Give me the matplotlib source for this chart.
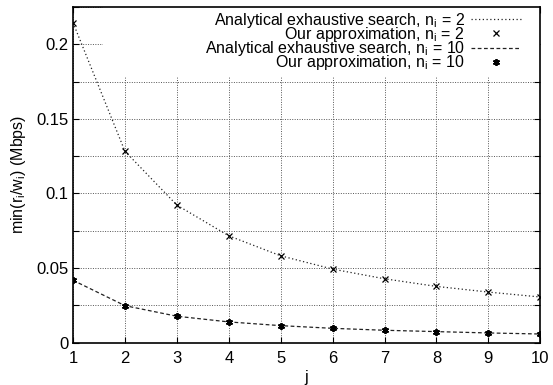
import matplotlib.pyplot as plt
from matplotlib.ticker import MultipleLocator
from matplotlib.patches import Rectangle

plt.rcParams['font.family'] = ['Liberation Sans', 'DejaVu Sans']
plt.rcParams['mathtext.fontset'] = 'custom'
plt.rcParams['mathtext.rm'] = 'Liberation Sans'
plt.rcParams['mathtext.it'] = 'Liberation Sans'

# hop index j
j = [1, 2, 3, 4, 5, 6, 7, 8, 9, 10]

# n_i = 2
exact_n2 = [0.2145, 0.1283, 0.0922, 0.0716, 0.0582, 0.0493, 0.0428, 0.0377, 0.0339, 0.0306]
approx_n2 = [0.2145, 0.1283, 0.0922, 0.0716, 0.0582, 0.0493, 0.0428, 0.0377, 0.0339, 0.0306]

# n_i = 10
exact_n10 = [0.0418, 0.0248, 0.0177, 0.0139, 0.0114, 0.0096, 0.0083, 0.0074, 0.0065, 0.0058]
approx_n10 = [0.0418, 0.0248, 0.0177, 0.0139, 0.0114, 0.0096, 0.0083, 0.0074, 0.0065, 0.0058]

fig = plt.figure(figsize=(5.53, 3.85), dpi=100)
ax = fig.add_axes([0.132, 0.110, 0.845, 0.872])

ax.plot(j, exact_n2, linestyle=(0, (1, 2)), color='#222222', linewidth=0.9,
        label=r'Analytical exhaustive search, $\mathrm{n_i}$ = 2')
ax.plot(j, approx_n2, linestyle='none', marker='x', color='black', markersize=4,
        markeredgewidth=0.9, label=r'Our approximation, $\mathrm{n_i}$ = 2')
ax.plot(j, exact_n10, linestyle=(0, (3, 2)), color='#222222', linewidth=0.9,
        label=r'Analytical exhaustive search, $\mathrm{n_i}$ = 10')
ax.plot(j, approx_n10, linestyle='none', marker=(6, 2, 0), color='black', markersize=5,
        markeredgewidth=1.3, label=r'Our approximation, $\mathrm{n_i}$ = 10')

ax.set_xlim(1, 10)
ax.set_ylim(0, 0.225)
ax.set_xticks(j)
ax.yaxis.set_major_locator(MultipleLocator(0.05))
ax.yaxis.set_minor_locator(MultipleLocator(0.025))
ax.yaxis.set_major_formatter(plt.FuncFormatter(lambda v, p: '0' if v == 0 else f'{v:g}'))

ax.tick_params(direction='in', which='both', top=True, right=True, labelsize=12,
               length=4, width=0.8)
ax.tick_params(axis='x', pad=6)
ax.tick_params(which='minor', length=4)
ax.grid(True, which='both', linestyle=(0, (1, 1.5)), color='#555555', linewidth=0.7)
ax.set_axisbelow(True)
for s in ax.spines.values():
    s.set_linewidth(1.2)

ax.set_xlabel('j', fontsize=11.5, labelpad=3)
ax.set_ylabel(r'min(r$_\mathrm{i}$/w$_\mathrm{i}$) (Mbps)', fontsize=11.5, labelpad=6)

# opaque key area
ax.add_patch(Rectangle((0.064, 0.79), 0.936, 0.21, transform=ax.transAxes,
                       facecolor='white', edgecolor='none', zorder=1))

leg = ax.legend(loc='upper right', bbox_to_anchor=(0.965, 0.998), markerfirst=False,
                fontsize=11.5, handlelength=3.1, labelspacing=-0.3, borderaxespad=0,
                borderpad=0.2, handletextpad=0.4, frameon=False)
for t in leg.get_texts():
    t.set_ha('right')
leg._legend_box.align = 'right'

fig.savefig('out.png', dpi=100)
